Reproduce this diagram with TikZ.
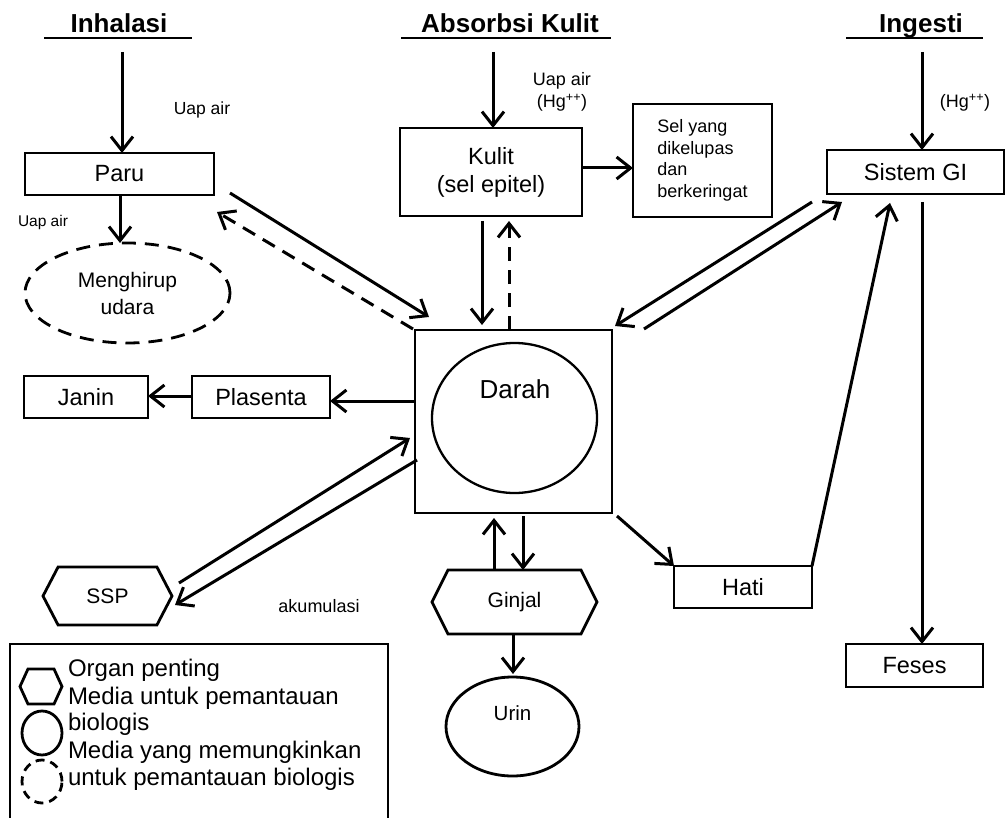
\documentclass[tikz,border=0pt]{standalone}
\usepackage{fontspec}
\setmainfont{Liberation Sans}
\usetikzlibrary{arrows.meta,shapes.geometric,shapes.symbols}
\begin{document}
\begin{tikzpicture}[x=1pt,y=-1pt,
  every node/.style={inner sep=0pt, outer sep=0pt},
  ln/.style={line width=2.8pt},
  box/.style={draw, line width=2.8pt, rectangle},
  arr/.style={line width=3pt, -{Straight Barb[length=14pt,width=22pt,line width=3pt]}},
  dsh/.style={dash pattern=on 14pt off 9pt},
  hexa/.style={draw, line width=2.8pt, signal, signal to=east and west, signal from=nowhere},
  fT/.style={font=\fontsize{26}{30}\selectfont\bfseries},
  fA/.style={font=\fontsize{23.5}{28}\selectfont},
  fD/.style={font=\fontsize{26}{30}\selectfont},
  fB/.style={font=\fontsize{21}{27}\selectfont},
  fM/.style={font=\fontsize{18}{21.6}\selectfont},
  fS/.style={font=\fontsize{17.5}{21}\selectfont},
  fXS/.style={font=\fontsize{15.5}{19}\selectfont},
  fL/.style={font=\fontsize{24}{27}\selectfont, anchor=west, text height=17pt, text depth=5pt}
]
\useasboundingbox (0,0) rectangle (1006,818);

% titles
\node[fT, anchor=base] (t1) at (119,33) {Inhalasi};
\node[fT, anchor=base] (t2) at (510,33) {Absorbsi Kulit};
\node[fT, anchor=base] (t3) at (921,33) {Ingesti};
\draw[ln] (44,38) -- (192,38);
\draw[ln] (401,38) -- (611,38);
\draw[ln] (846,38) -- (983,38);

% inhalation
\coordinate (i1) at (122,52);
\node[box, minimum width=189pt, minimum height=42pt, fA] (paru) at (119.5,174) {Paru};
\draw[arr] (i1) -- (i1 |- paru.north);
\node[fS, anchor=base] (l1) at (202,115) {Uap air};
\node[draw, ln, dsh, ellipse, minimum width=205pt, minimum height=100pt, align=center, fB] (breath) at (127.5,293) {Menghirup\\udara};
\coordinate (u1) at (120,0);
\draw[arr] (u1 |- paru.south) -- (u1 |- breath.north);
\node[fXS] (l2) at (43,222) {Uap air};

% skin
\coordinate (i2) at (493,52);
\node[box, minimum width=182pt, minimum height=88pt, align=center, fA] (kulit) at (491,172) {Kulit\\(sel epitel)};
\draw[arr] (i2) -- (i2 |- kulit.north);
\node[fM, align=center] (l3) at (562,92) {Uap air\\(Hg\textsuperscript{++})};
\node[box, minimum width=139pt, minimum height=113pt, align=left, fM] (sel) at (702.5,160.5) {Sel yang\\dikelupas\\dan\\berkeringat};
\coordinate (k1) at (0,168);
\draw[arr] (kulit.east |- k1) -- (sel.west |- k1);

% ingestion
\coordinate (i3) at (922,52);
\node[box, minimum width=177pt, minimum height=44pt, fA] (gi) at (915.5,172) {Sistem GI};
\draw[arr] (i3) -- (i3 |- gi.north);
\node[fM] (l4) at (965,103) {(Hg\textsuperscript{++})};
\node[box, minimum width=137pt, minimum height=43pt, fA] (feses) at (914.5,665.5) {Feses};
\draw[arr, shorten <=8pt] (i3 |- gi.south) -- (i3 |- feses.north);

% blood
\node[box, minimum width=197pt, minimum height=183pt] (darah) at (513.5,421.5) {};
\node[draw, line width=2.3pt, ellipse, minimum width=165pt, minimum height=150pt] (blood) at (514.5,418) {};
\node[fD] (darahtxt) at (515,389) {Darah};

% paru <-> darah
\draw[arr] ([xshift=16pt,yshift=2pt]paru.south east) -- ([xshift=14pt,yshift=13pt]darah.north west);
\draw[arr, dsh] ([xshift=-2pt,yshift=1pt]darah.north west) -- ([xshift=3pt,yshift=-17pt]paru.south east);

% kulit <-> darah
\coordinate (kx1) at (482,0);
\coordinate (kx2) at (509,0);
\draw[arr, shorten <=5pt, shorten >=5pt] (kx1 |- kulit.south) -- (kx1 |- darah.north);
\draw[arr, dsh, shorten >=5pt] (kx2 |- darah.north) -- (kx2 |- kulit.south);

% gi <-> darah
\draw[arr] ([xshift=-15pt,yshift=-8pt]gi.south west) -- ([xshift=3pt,yshift=4pt]darah.north east);
\draw[arr] ([xshift=32pt,yshift=1pt]darah.north east) -- ([xshift=15pt,yshift=-8pt]gi.south west);

% placenta
\node[box, minimum width=138pt, minimum height=42pt, fA] (plas) at (261,397) {Plasenta};
\node[box, minimum width=124pt, minimum height=42pt, fA] (janin) at (86,397) {Janin};
\coordinate (py) at (0,401);
\coordinate (jy) at (0,396);
\draw[arr] (darah.west |- py) -- (plas.east |- py);
\draw[arr] (plas.west |- jy) -- (janin.east |- jy);

% SSP
\node[hexa, minimum width=129pt, minimum height=58pt, signal pointer angle=125, font=\fontsize{21}{25}\selectfont] (ssp) at (107.5,596) {SSP};
\draw[arr] ([xshift=7pt,yshift=13pt]ssp.east) -- ([xshift=-5pt,yshift=-16.5pt]darah.west);
\draw[arr] ([xshift=2pt,yshift=-38.5pt]darah.west) -- ([xshift=3pt,yshift=-9pt]ssp.east);
\node[fM] (akum) at (319,606) {akumulasi};

% ginjal
\node[hexa, minimum width=165pt, minimum height=64pt, signal pointer angle=127, font=\fontsize{21}{25}\selectfont] (ginjal) at (514.5,602) {Ginjal};
\coordinate (gx1) at (494,0);
\coordinate (gx2) at (523,0);
\coordinate (gx3) at (513,0);
\draw[arr, shorten >=5pt] (gx1 |- ginjal.north) -- (gx1 |- darah.south);
\draw[arr, shorten <=3pt] (gx2 |- darah.south) -- (gx2 |- ginjal.north);
\node[draw, ln, ellipse, minimum width=133pt, minimum height=99pt] (urin) at (512.5,726.5) {};
\node[font=\fontsize{20.5}{24}\selectfont] (urintxt) at (512.5,713) {Urin};
\draw[arr, shorten >=3pt] (gx3 |- ginjal.south) -- (gx3 |- urin.north);

% hati
\node[box, minimum width=138pt, minimum height=42pt, fA] (hati) at (743,587) {Hati};
\draw[arr] ([xshift=5pt,yshift=-3pt]darah.south east) -- (hati.north west);
\draw[arr] (hati.north east) -- ([xshift=-25.5pt,yshift=-9pt]gi.south);

% legend
\draw[ln] (10,818) -- (10,644) -- (388,644) -- (388,818);
\node[hexa, minimum width=42pt, minimum height=35pt, signal pointer angle=131] (lhex) at (41,686.5) {};
\node[draw, ln, ellipse, minimum width=40pt, minimum height=44pt] (lcirc) at (42,733) {};
\node[draw, ln, ellipse, dash pattern=on 9pt off 6pt, minimum width=40pt, minimum height=43pt] (ldash) at (42,781.5) {};
\node[fL] (lt1) at (68,670) {Organ penting};
\node[fL] (lt2) at (68,698) {Media untuk pemantauan};
\node[fL] (lt3) at (68,724) {biologis};
\node[fL] (lt4) at (68,752) {Media yang memungkinkan};
\node[fL] (lt5) at (68,779) {untuk pemantauan biologis};
\end{tikzpicture}
\end{document}
